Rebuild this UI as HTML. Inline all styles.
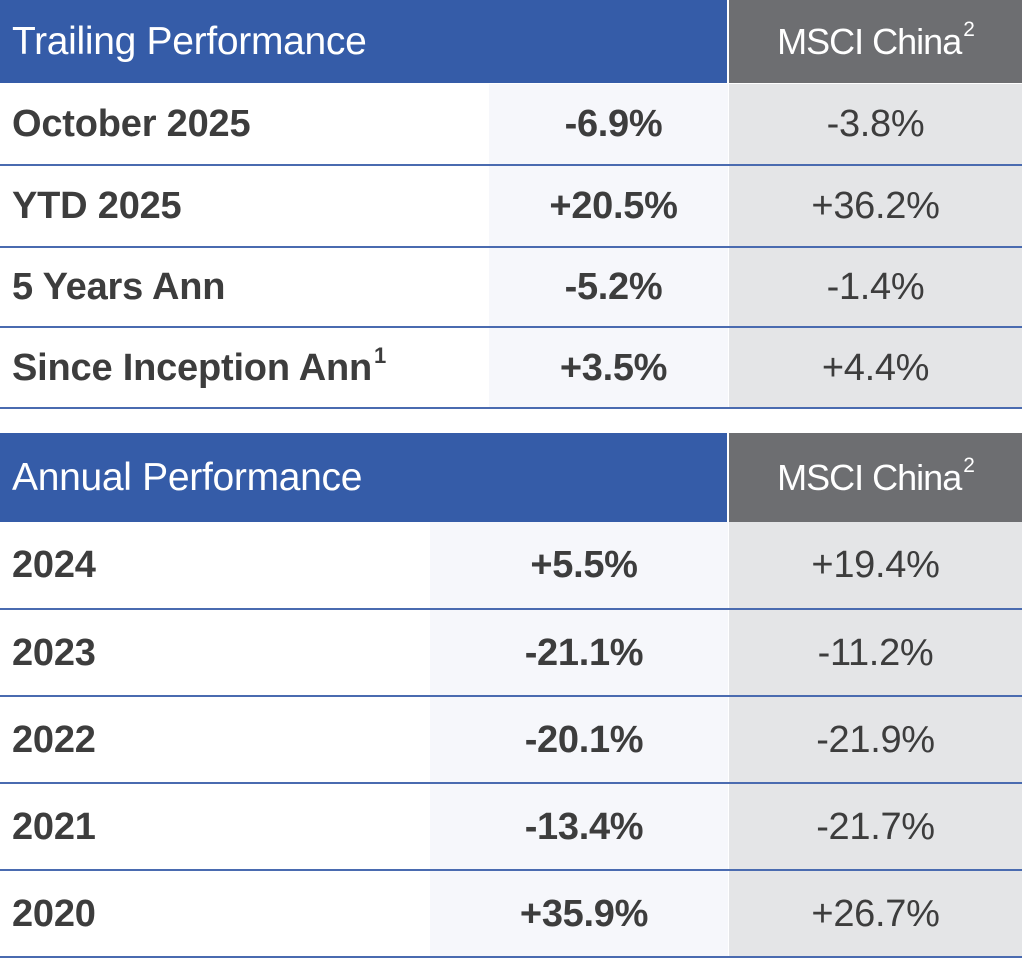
<!DOCTYPE html><html><head><style>
body{margin:0;width:1024px;height:971px;background:#fff;position:relative;font-family:"Liberation Sans",sans-serif;overflow:hidden}
div{position:absolute;box-sizing:border-box}
.blue{background:#355ca8;color:#fff;font-size:39px;padding-left:12px;display:flex;align-items:center;letter-spacing:-0.3px}
.gray{background:#6d6e71;color:#fff;font-size:36px;display:flex;align-items:center;justify-content:center;letter-spacing:-1px}
.lab{left:0;font-weight:bold;font-size:38px;color:#3d3d3d;padding-left:12px;display:flex;align-items:center;letter-spacing:-0.2px}
.v{font-weight:bold;font-size:38px;color:#3d3d3d;display:flex;align-items:center;justify-content:center;background:#f6f7fb;letter-spacing:-0.3px;padding-left:10px}
.m{left:729px;width:293px;font-size:38px;color:#3d3d3d;display:flex;align-items:center;justify-content:center;background:#e4e5e7;letter-spacing:-0.3px}
.ln{left:0;width:1022px;height:2px;background:#4a6bb0}
sup{font-size:58%;line-height:0;position:relative;top:-0.55em;vertical-align:baseline;margin-left:2px}
</style></head><body>
<div class="blue" style="left:0;top:0;width:727px;height:83px">Trailing Performance</div>
<div class="gray" style="left:729px;top:0;width:293px;height:83px">MSCI China<sup>2</sup></div>

<div class="lab" style="top:84px;height:81px">October 2025</div><div class="v" style="left:489px;width:239px;top:84px;height:81px">-6.9%</div><div class="m" style="top:84px;height:81px">-3.8%</div>
<div class="ln" style="top:164px"></div>
<div class="lab" style="top:166px;height:81px">YTD 2025</div><div class="v" style="left:489px;width:239px;top:166px;height:81px">+20.5%</div><div class="m" style="top:166px;height:81px">+36.2%</div>
<div class="ln" style="top:246px"></div>
<div class="lab" style="top:248px;height:79px">5 Years Ann</div><div class="v" style="left:489px;width:239px;top:248px;height:79px">-5.2%</div><div class="m" style="top:248px;height:79px">-1.4%</div>
<div class="ln" style="top:326px"></div>
<div class="lab" style="top:328px;height:80px">Since Inception Ann<sup>1</sup></div><div class="v" style="left:489px;width:239px;top:328px;height:80px">+3.5%</div><div class="m" style="top:328px;height:80px">+4.4%</div>
<div class="ln" style="top:407px"></div>

<div class="blue" style="left:0;top:433px;width:727px;height:89px">Annual Performance</div>
<div class="gray" style="left:729px;top:433px;width:293px;height:89px">MSCI China<sup>2</sup></div>

<div class="lab" style="top:522px;height:86px">2024</div><div class="v" style="left:430px;width:298px;top:522px;height:86px">+5.5%</div><div class="m" style="top:522px;height:86px">+19.4%</div>
<div class="ln" style="top:608px"></div>
<div class="lab" style="top:610px;height:86px">2023</div><div class="v" style="left:430px;width:298px;top:610px;height:86px">-21.1%</div><div class="m" style="top:610px;height:86px">-11.2%</div>
<div class="ln" style="top:695px"></div>
<div class="lab" style="top:697px;height:86px">2022</div><div class="v" style="left:430px;width:298px;top:697px;height:86px">-20.1%</div><div class="m" style="top:697px;height:86px">-21.9%</div>
<div class="ln" style="top:782px"></div>
<div class="lab" style="top:784px;height:86px">2021</div><div class="v" style="left:430px;width:298px;top:784px;height:86px">-13.4%</div><div class="m" style="top:784px;height:86px">-21.7%</div>
<div class="ln" style="top:869px"></div>
<div class="lab" style="top:871px;height:86px">2020</div><div class="v" style="left:430px;width:298px;top:871px;height:86px">+35.9%</div><div class="m" style="top:871px;height:86px">+26.7%</div>
<div class="ln" style="top:956px"></div>
</body></html>
